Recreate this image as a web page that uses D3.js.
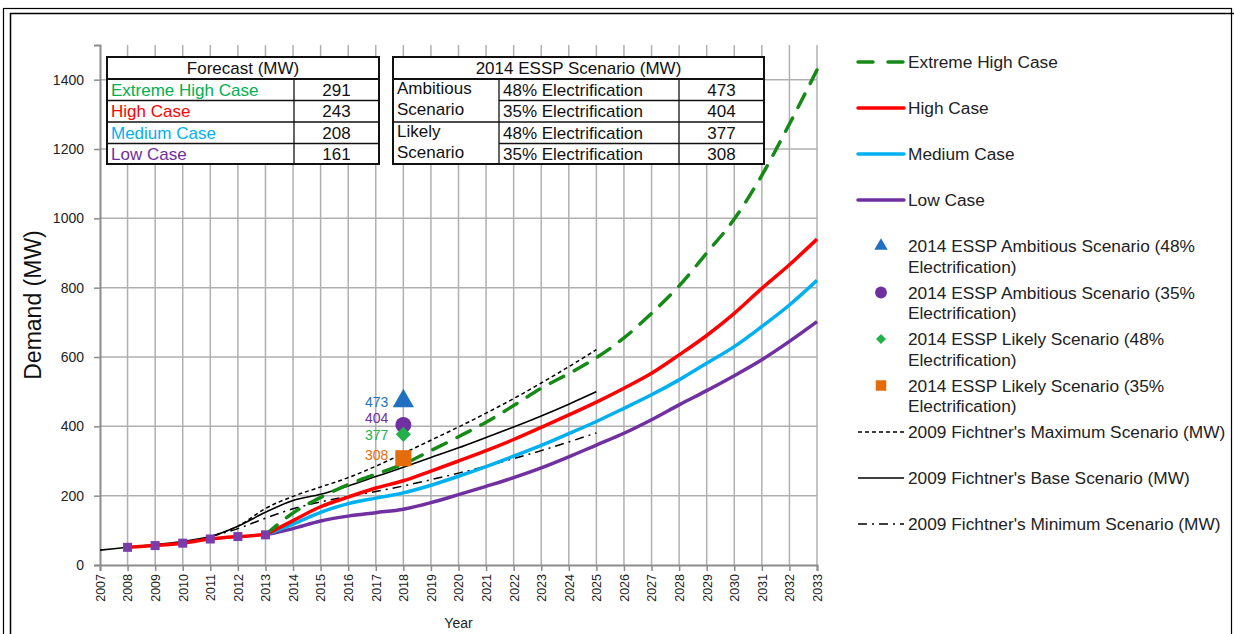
<!DOCTYPE html>
<html lang="en">
<head>
<meta charset="UTF-8">
<title>Demand forecast</title>
<script src="https://cdn.jsdelivr.net/npm/d3@7"></script>
<style>
  body { margin: 0; background: #fff; }
  svg { display: block; }
  text { font-family: "Liberation Sans", Arial, sans-serif; }
</style>
</head>
<body>
<script>
// ---- data ----
var histYears = [2008, 2009, 2010, 2011, 2012, 2013];
var histValues = [51, 56, 63, 75, 82, 87];

var fcYears = d3.range(2013, 2034);
var extremeHigh = [87, 150, 195, 232, 262, 291, 330, 370, 412, 460, 510, 552, 598, 655, 726, 805, 900, 998, 1124, 1272, 1428];
var highCase = [87, 128, 168, 196, 222, 243, 271, 300, 330, 362, 397, 433, 470, 510, 553, 606, 662, 726, 798, 866, 940];
var mediumCase = [87, 118, 152, 177, 193, 208, 230, 256, 284, 314, 345, 379, 414, 452, 491, 534, 582, 630, 688, 750, 821];
var lowCase = [87, 105, 127, 141, 151, 161, 180, 203, 227, 252, 280, 312, 346, 380, 419, 462, 503, 546, 592, 645, 702];

var baseYears = d3.range(2007, 2026);
var fichtnerBase = [43, 51, 59, 68, 82, 112, 152, 186, 204, 228, 255, 282, 310, 338, 368, 398, 430, 464, 500];
var rangeYears = d3.range(2011, 2026);
var fichtnerMax = [82, 112, 163, 198, 225, 252, 285, 322, 360, 398, 438, 480, 525, 572, 621];
var fichtnerMin = [82, 105, 135, 162, 182, 198, 212, 228, 246, 265, 285, 307, 330, 355, 381];

var esspYear = 2018;
var esspValues = [473, 404, 377, 308];
var esspColors = ["#1f70c1", "#7030a0", "#22b04b", "#e46c0a"];

var forecastNames = ["Extreme High Case", "High Case", "Medium Case", "Low Case"];
var forecastTable = [291, 243, 208, 161];
var forecastTextColors = ["#00b050", "#ff0000", "#00b0f0", "#7030a0"];
var esspGroups = ["Ambitious", "Scenario", "Likely", "Scenario"];
var esspCases = ["48% Electrification", "35% Electrification", "48% Electrification", "35% Electrification"];

var yTicks = [0, 200, 400, 600, 800, 1000, 1200, 1400];

// ---- layout ----
var W = 1234, H = 634;
var padding = { left: 100, top: 45, right: 417, bottom: 69 };
var tableFont = 17, legendFont = 17.3;

var svg = d3.select("body").append("svg")
    .attr("width", W)
    .attr("height", H);

// frame
svg.append("rect").attr("x", 3.5).attr("y", 8.5).attr("width", 1228).attr("height", 700)
    .attr("fill", "none").attr("stroke", "#000").attr("stroke-width", 1.2);
svg.append("rect").attr("x", 10.5).attr("y", 13.5).attr("width", 1240).attr("height", 700)
    .attr("fill", "none").attr("stroke", "#000").attr("stroke-width", 1.5);

var x = d3.scaleLinear().domain([2007, 2033]).range([padding.left, W - padding.right]);
var y = d3.scaleLinear().domain([0, 1500]).range([H - padding.bottom, padding.top]);

// grid
var grid = svg.append("g");
grid.selectAll("line.v").data(d3.range(2008, 2034)).enter().append("line")
    .attr("x1", d => x(d)).attr("x2", d => x(d))
    .attr("y1", y(0)).attr("y2", y(1500))
    .attr("stroke", "#b0b0b0").attr("stroke-width", 1.5);
grid.selectAll("line.h").data(yTicks.slice(1)).enter().append("line")
    .attr("x1", x(2007)).attr("x2", x(2033))
    .attr("y1", d => y(d)).attr("y2", d => y(d))
    .attr("stroke", "#b0b0b0").attr("stroke-width", 1.5);

// axes
var yaxis = d3.axisLeft(y).tickValues(yTicks).tickSize(6).tickPadding(10).tickFormat(d3.format("d"));
var xaxis = d3.axisBottom(x).tickValues(d3.range(2007, 2034)).tickSize(6).tickFormat(d3.format("d"));

var gy = svg.append("g").attr("transform", "translate(" + padding.left + ",0)").call(yaxis);
gy.select(".domain").attr("stroke", "#8c8c8c").attr("stroke-width", 2);
gy.selectAll(".tick line").attr("stroke", "#8c8c8c").attr("stroke-width", 1.5);
gy.selectAll(".tick text").attr("font-family", "DejaVu Sans").attr("font-size", 14).attr("fill", "#222");

var gx = svg.append("g").attr("transform", "translate(0," + y(0) + ")").call(xaxis);
gx.select(".domain").attr("stroke", "#8c8c8c").attr("stroke-width", 2);
gx.selectAll(".tick line").attr("stroke", "#8c8c8c").attr("stroke-width", 1.5);
gx.selectAll(".tick text")
    .attr("font-family", "DejaVu Sans").attr("font-size", 12.5).attr("fill", "#222")
    .attr("transform", "rotate(-90)")
    .attr("text-anchor", "end").attr("x", -9).attr("y", 0).attr("dy", "0.35em");

svg.append("text").attr("x", x(2020)).attr("y", 628).attr("text-anchor", "middle")
    .attr("font-size", 14).attr("fill", "#222").text("Year");
svg.append("text").attr("transform", "translate(41,305) rotate(-90)").attr("text-anchor", "middle")
    .attr("font-size", 23).attr("fill", "#111").text("Demand (MW)");

// lines
function pairs(xs, vs) { return xs.map((d, i) => [d, vs[i]]); }
var line = d3.line().x(d => x(d[0])).y(d => y(d[1])).curve(d3.curveMonotoneX);
var plot = svg.append("g");

plot.append("path").datum(pairs(rangeYears, fichtnerMax)).attr("d", line)
    .attr("fill", "none").attr("stroke", "#000").attr("stroke-width", 1.5).attr("stroke-dasharray", "4,3");
plot.append("path").datum(pairs(rangeYears, fichtnerMin)).attr("d", line)
    .attr("fill", "none").attr("stroke", "#000").attr("stroke-width", 1.5).attr("stroke-dasharray", "9,5,2,5");
plot.append("path").datum(pairs(baseYears, fichtnerBase)).attr("d", line)
    .attr("fill", "none").attr("stroke", "#000").attr("stroke-width", 1.6);

plot.append("path").datum(pairs(fcYears, lowCase)).attr("d", line)
    .attr("fill", "none").attr("stroke", "#7030a0").attr("stroke-width", 3.5);
plot.append("path").datum(pairs(fcYears, mediumCase)).attr("d", line)
    .attr("fill", "none").attr("stroke", "#00b0f0").attr("stroke-width", 3.5);
plot.append("path").datum(pairs(fcYears, highCase)).attr("d", line)
    .attr("fill", "none").attr("stroke", "#ff0000").attr("stroke-width", 3.5);
plot.append("path").datum(pairs(fcYears, extremeHigh)).attr("d", line)
    .attr("fill", "none").attr("stroke", "#168a16").attr("stroke-width", 3.5)
    .attr("stroke-dasharray", "15,12").attr("stroke-linecap", "round");

// history
plot.append("path").datum(pairs(histYears, histValues)).attr("d", line)
    .attr("fill", "none").attr("stroke", "#ff0000").attr("stroke-width", 3.5);
plot.selectAll("rect.hist").data(pairs(histYears, histValues)).enter().append("rect")
    .attr("x", d => x(d[0]) - 4.5).attr("y", d => y(d[1]) - 4.5)
    .attr("width", 9).attr("height", 9).attr("fill", "#7a3ca8");

// marker shapes: triangle, circle, diamond (rotated square), square
function marker(sel, i, s) {
    if (i === 0) return sel.append("path").attr("d", d3.symbol().type(d3.symbolTriangle).size(s * 1.3)());
    if (i === 1) return sel.append("circle").attr("r", Math.sqrt(s / Math.PI) * 1.05);
    var side = i === 2 ? Math.sqrt(s * 0.55) : Math.sqrt(s);
    var r = sel.append("rect").attr("x", -side / 2).attr("y", -side / 2)
        .attr("width", side).attr("height", side);
    if (i === 2) r.attr("transform", "rotate(45)");
    return r;
}

// ESSP markers
esspValues.forEach(function (v, i) {
    var g = plot.append("g").attr("transform", "translate(" + x(esspYear) + "," + y(v) + ")").attr("fill", esspColors[i]);
    marker(g, i, [150, 180, 210, 260][i]);
});
var labelShift = [1, -7, 1, -3];
plot.selectAll("text.essp").data(esspValues).enter().append("text")
    .attr("x", x(esspYear) - 15).attr("y", (d, i) => y(d) + labelShift[i])
    .attr("dy", "0.35em").attr("text-anchor", "end")
    .attr("font-family", "Open Sans").attr("font-size", 14)
    .attr("fill", (d, i) => esspColors[i]).text(d => d);

// tables
var tb = svg.append("g");
var rows = [57, 79, 100.5, 122, 143.5, 164];
var t1 = [107, 294, 379];
var t2 = [393, 499, 679, 764];
tb.append("rect").attr("x", t1[0]).attr("y", rows[0]).attr("width", t2[3] - t1[0]).attr("height", rows[5] - rows[0]).attr("fill", "#fff");

function hline(x1, x2, yy, w) {
    tb.append("line").attr("x1", x1).attr("x2", x2).attr("y1", yy).attr("y2", yy).attr("stroke", "#111").attr("stroke-width", w);
}
function vline(xx, y1, y2, w) {
    tb.append("line").attr("x1", xx).attr("x2", xx).attr("y1", y1).attr("y2", y2).attr("stroke", "#111").attr("stroke-width", w);
}
// table 1
hline(t1[0] - 1, t1[2] + 1, rows[0], 2); hline(t1[0] - 1, t1[2] + 1, rows[1], 2); hline(t1[0] - 1, t1[2] + 1, rows[5], 2);
[2, 3, 4].forEach(r => hline(t1[0], t1[2], rows[r], 1.3));
vline(t1[0], rows[0], rows[5], 2); vline(t1[2], rows[0], rows[5], 2); vline(t1[1], rows[1], rows[5], 1.3);
// table 2
hline(t2[0] - 1, t2[3] + 1, rows[0], 2); hline(t2[0] - 1, t2[3] + 1, rows[1], 2); hline(t2[0] - 1, t2[3] + 1, rows[5], 2);
hline(t2[0], t2[3], rows[3], 1.3);
[2, 4].forEach(r => hline(t2[1], t2[3], rows[r], 1.3));
vline(t2[0], rows[0], rows[5], 2); vline(t2[3], rows[0], rows[5], 2);
vline(t2[1], rows[1], rows[5], 1.3); vline(t2[2], rows[1], rows[5], 1.3);

tb.append("text").attr("x", (t1[0] + t1[2]) / 2).attr("y", (rows[0] + rows[1]) / 2 + 6)
    .attr("text-anchor", "middle").attr("font-size", tableFont).attr("fill", "#111").text("Forecast (MW)");
tb.append("text").attr("x", (t2[0] + t2[3]) / 2).attr("y", (rows[0] + rows[1]) / 2 + 6)
    .attr("text-anchor", "middle").attr("font-size", tableFont).attr("fill", "#111").text("2014 ESSP Scenario (MW)");

forecastNames.forEach(function (n, i) {
    var cy = (rows[i + 1] + rows[i + 2]) / 2 + 6;
    tb.append("text").attr("x", t1[0] + 4).attr("y", cy).attr("font-size", tableFont)
        .attr("fill", forecastTextColors[i]).text(n);
    tb.append("text").attr("x", (t1[1] + t1[2]) / 2).attr("y", cy).attr("text-anchor", "middle")
        .attr("font-size", tableFont).attr("fill", "#111").text(forecastTable[i]);
    tb.append("text").attr("x", t2[0] + 4).attr("y", cy - 2).attr("font-size", tableFont)
        .attr("fill", "#111").text(esspGroups[i]);
    tb.append("text").attr("x", t2[1] + 4).attr("y", cy).attr("font-size", tableFont)
        .attr("fill", "#111").text(esspCases[i]);
    tb.append("text").attr("x", (t2[2] + t2[3]) / 2).attr("y", cy).attr("text-anchor", "middle")
        .attr("font-size", tableFont).attr("fill", "#111").text(esspValues[i]);
});

// legend
var lg = svg.append("g");
var lx0 = 858, lx1 = 904, tx = 908;
var lineItems = [
    { name: "Extreme High Case", y: 62, color: "#168a16", w: 3.5, dash: "15,15" },
    { name: "High Case", y: 108, color: "#ff0000", w: 3.5, dash: null },
    { name: "Medium Case", y: 154, color: "#00b0f0", w: 3.5, dash: null },
    { name: "Low Case", y: 200, color: "#7030a0", w: 3.5, dash: null },
    { name: "2009 Fichtner's Maximum Scenario (MW)", y: 432, color: "#000", w: 1.6, dash: "4,3" },
    { name: "2009 Fichtner's Base Scenario (MW)", y: 478, color: "#000", w: 1.6, dash: null },
    { name: "2009 Fichtner's Minimum Scenario (MW)", y: 524, color: "#000", w: 1.6, dash: "9,5,2,5" }
];
lineItems.forEach(function (it) {
    lg.append("line").attr("x1", lx0).attr("x2", lx1).attr("y1", it.y).attr("y2", it.y)
        .attr("stroke", it.color).attr("stroke-width", it.w)
        .attr("stroke-dasharray", it.dash).attr("stroke-linecap", it.w > 3 ? "round" : "butt");
    lg.append("text").attr("x", tx).attr("y", it.y + 6).attr("font-size", legendFont).attr("fill", "#222").text(it.name);
});
var markerItems = [
    ["2014 ESSP Ambitious Scenario (48%", "Electrification)"],
    ["2014 ESSP Ambitious Scenario (35%", "Electrification)"],
    ["2014 ESSP Likely Scenario (48%", "Electrification)"],
    ["2014 ESSP Likely Scenario (35%", "Electrification)"]
];
markerItems.forEach(function (lines, i) {
    var yy = 246 + i * 46.5;
    var g = lg.append("g").attr("transform", "translate(881," + yy + ")").attr("fill", esspColors[i]);
    marker(g, i, [60, 100, 90, 110][i]);
    lines.forEach(function (t, k) {
        lg.append("text").attr("x", tx).attr("y", yy + 6 + k * 20.5).attr("font-size", legendFont).attr("fill", "#222").text(t);
    });
});
</script>
</body>
</html>
